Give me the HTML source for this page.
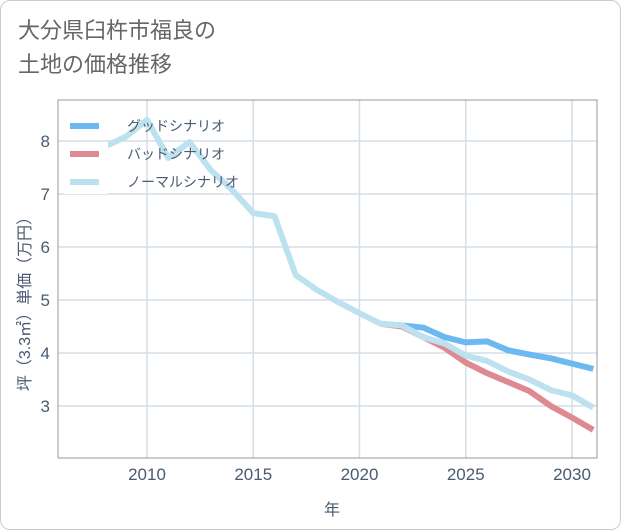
<!DOCTYPE html>
<html><head><meta charset="utf-8"><style>
body{margin:0;background:#fff;font-family:"Liberation Sans","Noto Sans CJK JP",sans-serif}
#card{position:absolute;left:0;top:0;width:619px;height:528px;border:1px solid #ccc;border-radius:10px;background:#fff}
#title{position:absolute;left:18px;top:14px;font-size:22px;line-height:34px;color:#666}
</style></head><body>
<div id="card"></div>
<div id="title">大分県臼杵市福良の<br>土地の価格推移</div>
<svg id="chart" width="621" height="530" style="position:absolute;left:0;top:0"></svg>
<script>
const years=[2008,2009,2010,2011,2012,2013,2014,2015,2016,2017,2018,2019,2020,2021,2022,2023,2024,2025,2026,2027,2028,2029,2030,2031];
const normalVals=[7.89,8.08,8.4,7.68,7.98,7.45,7.08,6.64,6.58,5.47,5.19,4.96,4.75,4.55,4.52,4.3,4.18,3.95,3.85,3.65,3.5,3.3,3.2,2.97];
const goodYears=[2021,2022,2023,2024,2025,2026,2027,2028,2029,2030,2031];
const goodVals=[4.55,4.52,4.48,4.3,4.2,4.22,4.05,3.97,3.9,3.8,3.7];
const badVals=[4.55,4.5,4.3,4.1,3.82,3.62,3.45,3.28,3.0,2.78,2.55];
const xTicks=[2010,2015,2020,2025,2030];
const yTicks=[3,4,5,6,7,8];
const NS="http://www.w3.org/2000/svg";
const L=58,R=597,T=100,B=458;
const xs=y=>147+(y-2010)*21.25;
const ys=v=>141+(8-v)*53;
const svg=document.getElementById('chart');
function mk(tag,attrs,parent){const e=document.createElementNS(NS,tag);for(const k in attrs)e.setAttribute(k,attrs[k]);(parent||svg).appendChild(e);return e;}
const defs=mk('defs',{});const cp=mk('clipPath',{id:'clip'},defs);mk('rect',{x:L,y:T,width:R-L,height:B-T},cp);
for(const t of xTicks){const g=mk('line',{x1:xs(t),x2:xs(t),y1:T,y2:B,stroke:'#d5dde8','stroke-width':1.5});


const tx=mk('text',{x:xs(t),y:B+22,'text-anchor':'middle','font-size':17,fill:'#4a5a70'});tx.textContent=t;

}
for(const t of yTicks){const g=mk('line',{x1:L,x2:R,y1:ys(t),y2:ys(t),stroke:'#d5dde8','stroke-width':1.5});


const tx=mk('text',{x:L-8,y:ys(t)+6,'text-anchor':'end','font-size':17,fill:'#4a5a70'});tx.textContent=t;

}
const fr=mk('rect',{x:L,y:T,width:R-L,height:B-T,fill:'none',stroke:'#999','stroke-width':1});


function line(xv,yv,color,name){const p=mk('polyline',{points:xv.map((x,i)=>xs(x)+','+ys(yv[i])).join(' '),fill:'none',stroke:color,'stroke-width':6,'stroke-linejoin':'round','clip-path':'url(#clip)'});

}
line(goodYears,goodVals,'#6cb8f0','good-scenario-line');
line(goodYears,badVals,'#de8a92','bad-scenario-line');
line(years,normalVals,'#bde2ef','normal-scenario-line');
const leg=[['グッドシナリオ','#6cb8f0'],['バッドシナリオ','#de8a92'],['ノーマルシナリオ','#bde2ef']];
leg.forEach((d,i)=>{const y=126+i*28;
const bg=mk('rect',{x:64,y:y-12,width:44,height:24,fill:'#fff'});


const s=mk('line',{x1:70,x2:99,y1:y,y2:y,stroke:d[1],'stroke-width':6});


const t=mk('text',{x:127,y:y+5,'font-size':14,fill:'#4a5a70'});t.textContent=d[0];

});
const xt=mk('text',{x:332,y:515,'text-anchor':'middle','font-size':16,fill:'#4a5a70'});xt.textContent='年';


const yt=mk('text',{x:0,y:0,'text-anchor':'middle','font-size':16,fill:'#4a5a70',transform:'translate(30,300) rotate(-90)'});yt.textContent='坪（3.3㎡）単価（万円）';


</script>
</body></html>
